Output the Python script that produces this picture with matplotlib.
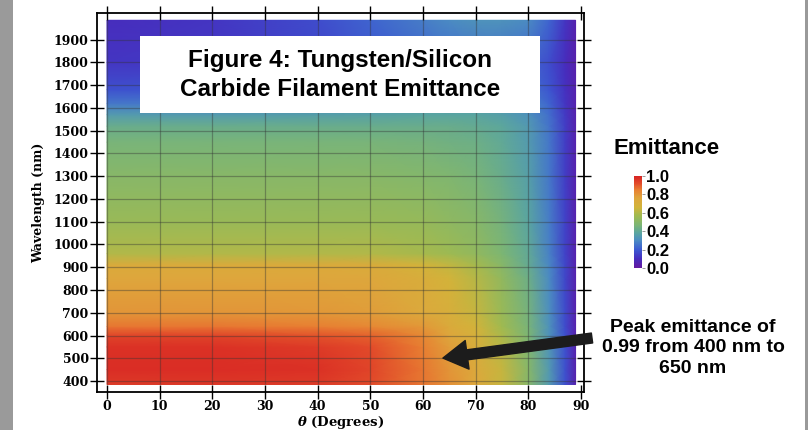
import numpy as np
import matplotlib
matplotlib.use('Agg')
import matplotlib.pyplot as plt
from matplotlib.colors import LinearSegmentedColormap
from matplotlib.patches import Rectangle

plt.rcParams['mathtext.fontset'] = 'custom'
plt.rcParams['mathtext.it'] = 'DejaVu Serif:italic:bold'
plt.rcParams['mathtext.rm'] = 'DejaVu Serif:bold'

# angle (deg) columns and wavelength (nm) rows of the emittance map
theta = [0, 20, 40, 50, 60, 65, 70, 75, 80, 84, 87, 89]
wavelength = [385, 450, 550, 600, 640, 700, 850, 910, 960, 1100, 1300,
              1450, 1520, 1570, 1620, 1680, 1800, 1985]
emittance = [
    [0.95, 0.96, 0.95, 0.92, 0.86, 0.81, 0.75, 0.64, 0.50, 0.34, 0.18, 0.05],
    [0.98, 0.98, 0.97, 0.93, 0.86, 0.80, 0.74, 0.64, 0.50, 0.34, 0.18, 0.05],
    [0.97, 0.97, 0.95, 0.92, 0.85, 0.78, 0.71, 0.61, 0.48, 0.33, 0.18, 0.05],
    [0.93, 0.93, 0.91, 0.89, 0.83, 0.76, 0.69, 0.59, 0.47, 0.32, 0.18, 0.05],
    [0.86, 0.86, 0.85, 0.83, 0.79, 0.73, 0.67, 0.57, 0.46, 0.32, 0.17, 0.05],
    [0.80, 0.80, 0.79, 0.78, 0.74, 0.70, 0.64, 0.55, 0.45, 0.31, 0.17, 0.05],
    [0.76, 0.76, 0.76, 0.75, 0.71, 0.67, 0.61, 0.53, 0.43, 0.30, 0.16, 0.05],
    [0.73, 0.73, 0.73, 0.72, 0.67, 0.63, 0.58, 0.50, 0.41, 0.29, 0.16, 0.05],
    [0.60, 0.60, 0.60, 0.60, 0.58, 0.56, 0.53, 0.47, 0.40, 0.28, 0.15, 0.05],
    [0.55, 0.55, 0.55, 0.55, 0.54, 0.52, 0.50, 0.45, 0.38, 0.27, 0.15, 0.05],
    [0.50, 0.50, 0.50, 0.50, 0.49, 0.48, 0.46, 0.42, 0.36, 0.26, 0.14, 0.05],
    [0.46, 0.46, 0.46, 0.46, 0.45, 0.44, 0.43, 0.40, 0.35, 0.26, 0.14, 0.05],
    [0.42, 0.42, 0.42, 0.42, 0.42, 0.42, 0.41, 0.39, 0.34, 0.25, 0.14, 0.05],
    [0.35, 0.35, 0.36, 0.37, 0.38, 0.38, 0.38, 0.36, 0.32, 0.24, 0.13, 0.05],
    [0.26, 0.26, 0.28, 0.30, 0.32, 0.33, 0.33, 0.32, 0.29, 0.22, 0.12, 0.05],
    [0.18, 0.19, 0.21, 0.24, 0.27, 0.28, 0.28, 0.27, 0.25, 0.19, 0.11, 0.05],
    [0.12, 0.13, 0.16, 0.19, 0.22, 0.23, 0.24, 0.24, 0.22, 0.17, 0.10, 0.04],
    [0.10, 0.12, 0.17, 0.22, 0.27, 0.30, 0.32, 0.32, 0.30, 0.22, 0.12, 0.05],
]
theta_ticks = list(range(0, 91, 10))
wl_ticks = list(range(400, 1901, 100))
cbar_ticks = [0.0, 0.2, 0.4, 0.6, 0.8, 1.0]

stops = [(0.0, (100, 25, 160)), (0.1, (70, 45, 190)), (0.2, (60, 90, 210)),
         (0.3, (75, 140, 195)), (0.38, (90, 165, 160)), (0.47, (125, 182, 115)),
         (0.57, (160, 186, 80)), (0.66, (210, 180, 58)), (0.76, (222, 166, 60)),
         (0.85, (232, 128, 50)), (0.92, (226, 75, 42)), (1.0, (215, 35, 35))]
cmap = LinearSegmentedColormap.from_list(
    'emit', [(p, tuple(c / 255 for c in rgb)) for p, rgb in stops])

fig = plt.figure(figsize=(8.08, 4.30), dpi=100)
ax = fig.add_axes([97 / 808, 38 / 430, 487 / 808, 379 / 430])

mesh = ax.pcolormesh(theta, wavelength, np.array(emittance), cmap=cmap,
                     vmin=0, vmax=1, shading='gouraud')
ax.set_xlim(-1.9, 90.6)
ax.set_ylim(352, 2017)

# grid only over the map
ax.vlines([t for t in theta_ticks if t < max(theta)], min(wavelength), max(wavelength),
          color='#333333', lw=0.9, alpha=0.4, zorder=2)
ax.hlines(wl_ticks, min(theta), max(theta), color='#333333', lw=0.9, alpha=0.4, zorder=2)

ax.set_xticks(theta_ticks)
ax.set_yticks(wl_ticks)
ax.tick_params(direction='inout', length=10, width=1, top=True, right=True,
               labeltop=False, labelright=False, pad=1)
for lab in ax.get_xticklabels() + ax.get_yticklabels():
    lab.set_fontfamily('DejaVu Serif')
    lab.set_fontweight('bold')
    lab.set_fontsize(9)
for s in ax.spines.values():
    s.set_linewidth(1.3)

ax.set_xlabel(r'$\theta$ (Degrees)', family='DejaVu Serif', weight='bold',
              fontsize=9.5, labelpad=0.5)
ax.set_ylabel('Wavelength (nm)', family='DejaVu Serif', weight='bold',
              fontsize=9, labelpad=6)

# annotation arrow
ax.annotate('', xy=(63.8, 501), xycoords='data',
            xytext=(592 / 808, 92 / 430), textcoords='figure fraction',
            arrowprops=dict(arrowstyle='simple,head_length=1.1,head_width=1.3,tail_width=0.45',
                            color='#1c1c1c', mutation_scale=16, shrinkA=0, shrinkB=0),
            annotation_clip=False, zorder=5)

# title box
fig.add_artist(Rectangle((140 / 808, 317 / 430), 400 / 808, 77 / 430,
                         transform=fig.transFigure, facecolor='white',
                         edgecolor='none', zorder=3))
fig.text(340 / 808, 355 / 430, 'Figure 4: Tungsten/Silicon\nCarbide Filament Emittance',
         ha='center', va='center', family='Liberation Sans', weight='bold',
         fontsize=17.5, linespacing=1.3, zorder=4)

fig.text(693 / 808, 82 / 430, 'Peak emittance of\n0.99 from 400 nm to\n650 nm',
         ha='center', va='center', family='Liberation Sans', weight='bold',
         fontsize=14, linespacing=1.3)

fig.text(667 / 808, 282 / 430, 'Emittance', ha='center', va='center',
         family='Liberation Sans', weight='bold', fontsize=16)

cax = fig.add_axes([634 / 808, 162 / 430, 8 / 808, 92 / 430])
cb = fig.colorbar(mesh, cax=cax, ticks=cbar_ticks)
cb.outline.set_visible(False)
cb.ax.tick_params(length=2, width=0.6, pad=1, color='#888888')
cb.ax.set_yticklabels(['%.1f' % v for v in cbar_ticks], family='Liberation Sans',
                      weight='bold', fontsize=12)

# grey page edges
for x0, w in [(0, 13), (805, 3)]:
    fig.add_artist(Rectangle((x0 / 808, 0), w / 808, 1, transform=fig.transFigure,
                             facecolor='#9a9a9a', edgecolor='none'))

fig.savefig('out.png', dpi=100)
